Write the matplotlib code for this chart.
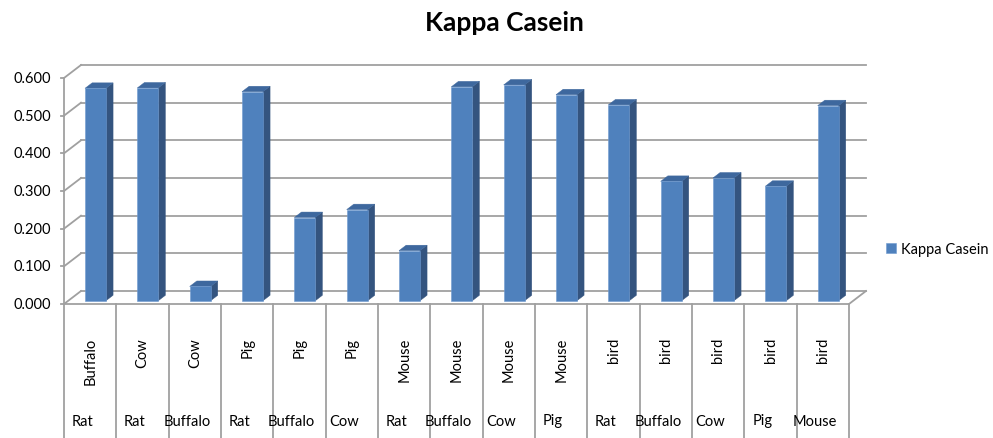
import matplotlib
matplotlib.use("Agg")
import matplotlib.pyplot as plt
from matplotlib.patches import Polygon
import numpy as np

title = "Kappa Casein"
series_name = "Kappa Casein"
inner_labels = ["Buffalo", "Cow", "Cow", "Pig", "Pig", "Pig", "Mouse", "Mouse",
                "Mouse", "Mouse", "bird", "bird", "bird", "bird", "bird"]
outer_labels = ["Rat", "Rat", "Buffalo", "Rat", "Buffalo", "Cow", "Rat", "Buffalo",
                "Cow", "Pig", "Rat", "Buffalo", "Cow", "Pig", "Mouse"]
values = [0.564, 0.565, 0.038, 0.555, 0.221, 0.242, 0.133, 0.568,
          0.573, 0.547, 0.520, 0.317, 0.326, 0.304, 0.518]
yticks = [0.0, 0.1, 0.2, 0.3, 0.4, 0.5, 0.6]

FONT = ["Lato", "DejaVu Sans"]
plt.rcParams['font.family'] = FONT

W, H = 993, 439
fig = plt.figure(figsize=(W / 100, H / 100), dpi=100)

# front plane of the 3D box in pixels
left_px, right_px, bot_px, top_px = 64, 849, 305, 79
ax = fig.add_axes([left_px / W, (H - bot_px) / H, (right_px - left_px) / W, (bot_px - top_px) / H])
n = len(values)
ax.set_xlim(-0.5, n - 0.5)
ax.set_ylim(0, 0.6)
ax.axis('off')

pxx = (right_px - left_px) / n          # pixels per category
pxy = (bot_px - top_px) / 0.6           # pixels per unit
DX = 17 / pxx                           # depth offset in data units
DY = 13 / pxy

grid_c = "#A0A0A0"
lw = 1.3

# back-wall gridlines and left wall diagonals
for v in yticks:
    ax.plot([-0.5 + DX, n - 0.5 + DX], [v + DY, v + DY], color=grid_c, lw=lw, clip_on=False, zorder=1)
    ax.plot([-0.5, -0.5 + DX], [v, v + DY], color=grid_c, lw=lw, clip_on=False, zorder=1)
    ax.plot([-0.5 - 3.5 / pxx, -0.5], [v, v], color=grid_c, lw=lw, clip_on=False, zorder=1)
    ax.text(-0.5 - 13 / pxx, v, f"{v:.3f}", ha='right', va='center', fontsize=10.5,
            color="#000000")

# left axis line
ax.plot([-0.5, -0.5], [0, 0.6], color=grid_c, lw=lw, clip_on=False, zorder=1)
# floor front edge and right diagonal
ax.plot([-0.5, n - 0.5], [0, 0], color=grid_c, lw=lw, clip_on=False, zorder=1)
ax.plot([n - 0.5, n - 0.5 + DX], [0, DY], color=grid_c, lw=lw, clip_on=False, zorder=1)

# category separators below the floor
ybot = -(H - bot_px) / pxy
for i in range(n + 1):
    ax.plot([i - 0.5, i - 0.5], [0, ybot], color=grid_c, lw=lw, clip_on=False, zorder=1)

# bars
f = 0.25      # depth position of bar front face
s = 0.42      # bar depth
bw = 0.40
x = np.arange(n)
front_c = "#4F81BD"
side_c = "#34547F"
top_c = "#3E689E"
bars = ax.bar(x + f * DX + 0.02, values, width=bw, bottom=f * DY, color=front_c,
              edgecolor="#6F9AD0", linewidth=0.4, zorder=3, clip_on=False, label=series_name)
for xi, v in zip(x, values):
    xl = xi + f * DX + 0.02 - bw / 2
    xr = xl + bw
    b = f * DY
    t = b + v
    side = Polygon([(xr, b), (xr + s * DX, b + s * DY), (xr + s * DX, t + s * DY), (xr, t)],
                   closed=True, facecolor=side_c, edgecolor=side_c, lw=0.3, zorder=2.5, clip_on=False)
    top = Polygon([(xl, t), (xr, t), (xr + s * DX, t + s * DY), (xl + s * DX, t + s * DY)],
                  closed=True, facecolor=top_c, edgecolor=top_c, lw=0.3, zorder=2.6, clip_on=False)
    ax.add_patch(side)
    ax.add_patch(top)

# category labels
inner_top = -(338 - bot_px) / pxy
outer_y = -(421.5 - bot_px) / pxy
for i in range(n):
    ax.text(i, inner_top, inner_labels[i], rotation=90, ha='center', va='top',
            fontsize=10.5, color="#000000")
    ax.text(i - 8 / pxx, outer_y, outer_labels[i], ha='center', va='center',
            fontsize=10.5, color="#000000")

fig.text(504 / W, 1 - 23 / H, title, ha='center', va='center', fontsize=19, fontweight='bold')

fig.legend(handles=[bars], labels=[series_name], loc='center left',
           bbox_to_anchor=(880 / W, 1 - 250 / H), frameon=False, fontsize=10.5,
           handlelength=0.7, handleheight=0.7, handletextpad=0.35, borderaxespad=0)

fig.savefig("out.png", dpi=100)
